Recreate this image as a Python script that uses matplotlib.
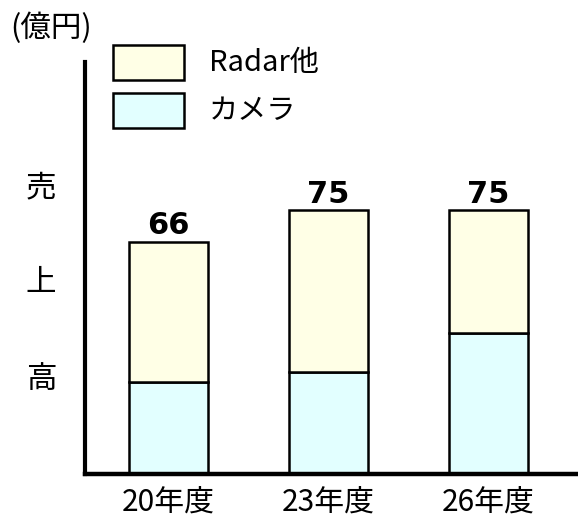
import matplotlib
matplotlib.use('Agg')
import matplotlib.pyplot as plt
from matplotlib.patches import Rectangle

plt.rcParams['font.family'] = ['Noto Sans CJK JP', 'DejaVu Sans']

# ---- data ----
years = ['20年度', '23年度', '26年度']
camera = [26, 29, 40]
radar = [40, 46, 35]
totals = [66, 75, 75]
series_names = ['Radar他', 'カメラ']

radar_color = '#FFFFE6'
camera_color = '#E2FFFF'

W, H = 578, 522
fig = plt.figure(figsize=(W / 100, H / 100), dpi=100)

def fx(x):
    return x / W

def fy(y):
    return 1 - y / H

ax_left, ax_bottom, ax_top = 84.5, 474, 62
ax = fig.add_axes([fx(ax_left), fy(ax_bottom), 1 - fx(ax_left), (ax_bottom - ax_top) / H])

x = list(range(len(years)))
bw = 0.49
ax.bar(x, camera, width=bw, color=camera_color, edgecolor='black', linewidth=1.8, zorder=2)
ax.bar(x, radar, width=bw, bottom=camera, color=radar_color, edgecolor='black', linewidth=1.8, zorder=2)

for xi, t in zip(x, totals):
    ax.annotate(str(t), (xi, t), xytext=(0, 1), textcoords='offset points',
                ha='center', va='bottom', fontsize=22, fontweight='bold',
                family='DejaVu Sans')

ax.set_ylim(0, (ax_bottom - ax_top) / 3.52)
ax.set_xlim((ax_left - 168.5) / 160, (W - 168.5) / 160)
ax.set_yticks([])
ax.set_xticks(x, years, fontsize=21.5)
ax.tick_params(axis='x', length=0, pad=10)
for s in ['top', 'right']:
    ax.spines[s].set_visible(False)
ax.spines['left'].set_linewidth(3)
ax.spines['bottom'].set_linewidth(3.2)
ax.spines['bottom'].set_zorder(3)

# y label characters
for ch, yy in zip(['売', '上', '高'], [188, 283, 380]):
    fig.text(fx(41), fy(yy), ch, ha='center', va='center', fontsize=22)

fig.text(fx(10), fy(28), '(億円)', ha='left', va='center', fontsize=22)

# legend
for (name, col), yy in zip([(series_names[0], radar_color), (series_names[1], camera_color)], [45, 93]):
    fig.add_artist(Rectangle((fx(113), fy(yy + 35)), 71 / W, 35 / H, transform=fig.transFigure,
                             facecolor=col, edgecolor='black', linewidth=1.8))
    fig.text(fx(209), fy(yy + 18), name, ha='left', va='center', fontsize=21)

fig.savefig('out.png', dpi=100)
